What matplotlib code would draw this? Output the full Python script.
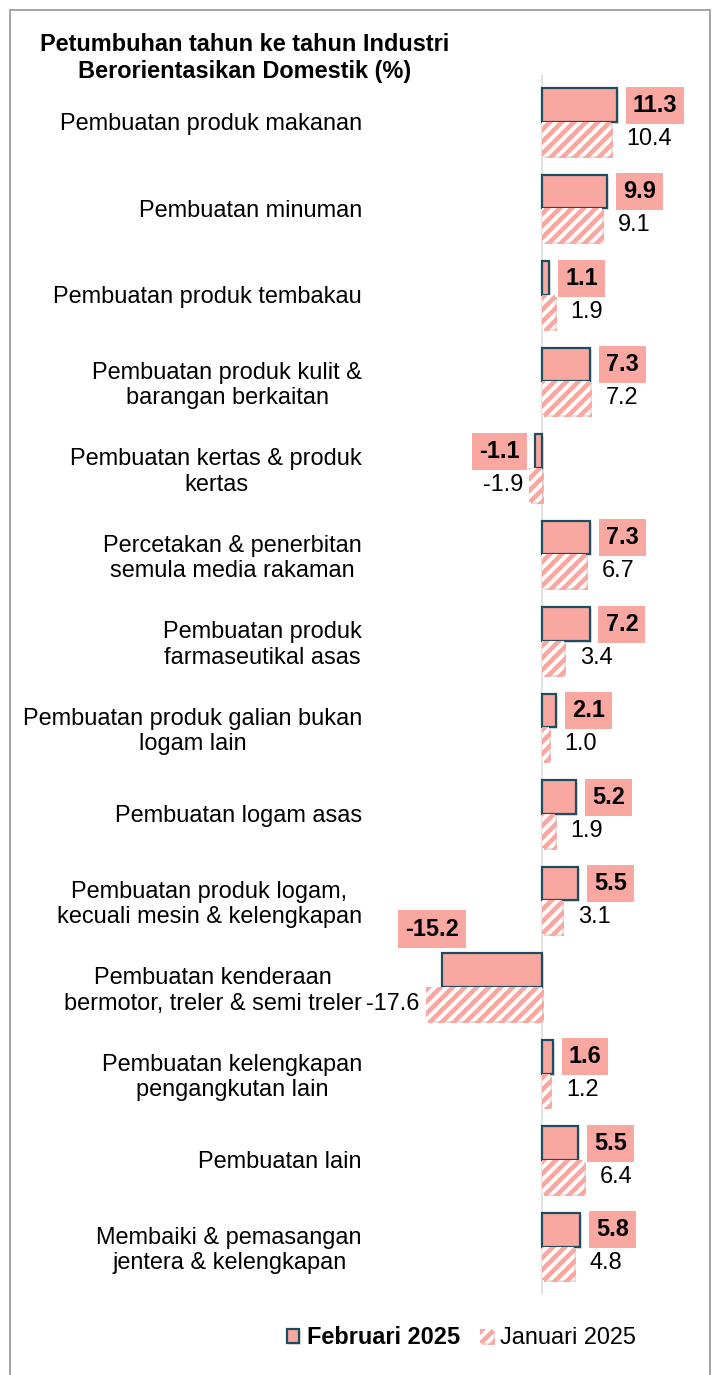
import matplotlib.pyplot as plt
import matplotlib.patches as patches
import matplotlib.patheffects as pe
import numpy as np

plt.rcParams['font.family'] = ['Liberation Sans', 'DejaVu Sans']

categories = [
    "Pembuatan produk makanan",
    "Pembuatan minuman",
    "Pembuatan produk tembakau",
    "Pembuatan produk kulit &\nbarangan berkaitan",
    "Pembuatan kertas & produk\nkertas",
    "Percetakan & penerbitan\nsemula media rakaman",
    "Pembuatan produk\nfarmaseutikal asas",
    "Pembuatan produk galian bukan\nlogam lain",
    "Pembuatan logam asas",
    "Pembuatan produk logam,\nkecuali mesin & kelengkapan",
    "Pembuatan kenderaan\nbermotor, treler & semi treler",
    "Pembuatan kelengkapan\npengangkutan lain",
    "Pembuatan lain",
    "Membaiki & pemasangan\njentera & kelengkapan",
]
feb_2025 = [11.3, 9.9, 1.1, 7.3, -1.1, 7.3, 7.2, 2.1, 5.2, 5.5, -15.2, 1.6, 5.5, 5.8]
jan_2025 = [10.4, 9.1, 1.9, 7.2, -1.9, 6.7, 3.4, 1.0, 1.9, 3.1, -17.6, 1.2, 6.4, 4.8]

PINK = '#F8A7A1'
EDGE = '#1E4D5E'

DPI = 144
S = 72 / DPI  # points per pixel
FS = 23.5 * S  # text size, ~23.5 px

W, H = 715, 1375
fig = plt.figure(figsize=(W / DPI, H / DPI), dpi=DPI)

# gray frame around the chart
fig.add_artist(patches.Rectangle((10 / W, -0.01), 700 / W, 1 - 10 / H + 0.01,
                                 transform=fig.transFigure, fill=False,
                                 edgecolor='#A6A6A6', lw=2 * S))

ax_l, ax_r, ax_t, ax_b = 380, 705, 75, 1295
ax = fig.add_axes([ax_l / W, 1 - ax_b / H, (ax_r - ax_l) / W, (ax_b - ax_t) / H])
px = 6.6  # pixels per unit
zero = 542
ax.set_xlim(-(zero - ax_l) / px, (ax_r - zero) / px)
row = 86.5
ax.set_ylim((ax_b - 122) / row, (ax_t - 122) / row)

y = np.arange(len(categories))
h = 0.39
shadow = [pe.SimplePatchShadow(offset=(2 * S, -2 * S), shadow_rgbFace='#909090', alpha=0.25),
          pe.Normal()]

ax.axvline(0, color='#D9D9D9', lw=1.5 * S, zorder=1)

plt.rcParams['hatch.linewidth'] = 2.3
feb_bars = ax.barh(y - h / 2, feb_2025, height=h, color=PINK, edgecolor=EDGE,
                   linewidth=2.2 * S, zorder=3, label='Februari 2025')
jan_bars = ax.barh(y + h / 2, jan_2025, height=h, color='white', edgecolor=PINK,
                   hatch='////', linewidth=0, zorder=3, label='Januari 2025')
for b in list(feb_bars) + list(jan_bars):
    b.set_path_effects(shadow)

# value labels
for i, v in enumerate(feb_2025):
    if v == -15.2:
        ax.text(-16.6, i - 0.67, f"{v:.1f}", ha='center', va='center', fontsize=FS,
                fontweight='bold', bbox=dict(boxstyle='square,pad=0.3', fc=PINK, ec='none'))
        continue
    off = 16 if v >= 0 else -15
    ax.annotate(f"{v:.1f}", (v, i - h / 2), xytext=(off * S, 0), textcoords='offset points',
                ha='left' if v >= 0 else 'right', va='center', fontsize=FS, fontweight='bold',
                bbox=dict(boxstyle='square,pad=0.3', fc=PINK, ec='none'))
for i, v in enumerate(jan_2025):
    off = 16 if v >= 0 else -6
    ax.annotate(f"{v:.1f}", (v, i + h / 2), xytext=(off * S, 0), textcoords='offset points',
                ha='left' if v >= 0 else 'right', va='center', fontsize=FS)

ax.set_yticks(y)
ax.set_yticklabels(categories, fontsize=FS, multialignment='center', linespacing=1.2)
ax.tick_params(axis='y', length=0, pad=18 * S)
ax.set_xticks([])
for s in ax.spines.values():
    s.set_visible(False)

fig.text(245 / W, 1 - 58 / H, "Petumbuhan tahun ke tahun Industri\nBerorientasikan Domestik (%)",
         ha='center', va='center', fontsize=FS, fontweight='bold', linespacing=1.2)

leg = fig.legend(handles=[feb_bars, jan_bars], loc='center', bbox_to_anchor=(461 / W, 1 - 1338 / H),
                 ncol=2, frameon=False, fontsize=FS, handlelength=0.55, handleheight=0.55,
                 handletextpad=0.3, columnspacing=0.85)
leg.get_texts()[0].set_fontweight('bold')

fig.savefig('out.png', dpi=DPI)
